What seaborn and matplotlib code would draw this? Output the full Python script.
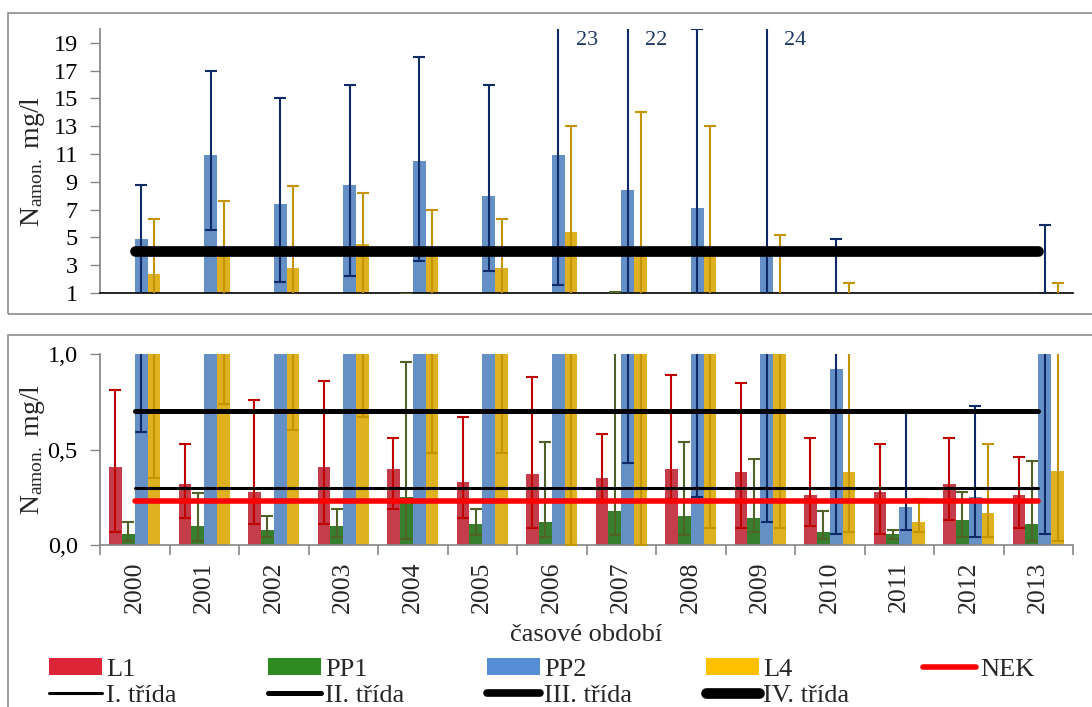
import numpy as np
import pandas as pd
import seaborn as sns
import matplotlib.pyplot as plt
from matplotlib.patches import Patch, Rectangle
from matplotlib.lines import Line2D

# data (mg/l) - mean, min, max per year and site
years = [str(y) for y in range(2000, 2014)]
sites = ["L1", "PP1", "PP2", "L4"]

l1_mean = [0.41, 0.32, 0.28, 0.41, 0.40, 0.33, 0.37, 0.35, 0.40, 0.38, 0.26, 0.28, 0.32, 0.26]
l1_min = [0.07, 0.14, 0.11, 0.11, 0.19, 0.14, 0.09, 0.23, 0.24, 0.09, 0.10, 0.06, 0.13, 0.09]
l1_max = [0.81, 0.53, 0.76, 0.86, 0.56, 0.67, 0.88, 0.58, 0.89, 0.85, 0.56, 0.53, 0.56, 0.46]

pp1_mean = [0.06, 0.10, 0.08, 0.10, 0.25, 0.11, 0.12, 0.18, 0.15, 0.14, 0.07, 0.06, 0.13, 0.11]
pp1_min = [0.02, 0.02, 0.04, 0.04, 0.03, 0.05, 0.04, 0.05, 0.05, 0.07, 0.03, 0.03, 0.04, 0.02]
pp1_max = [0.12, 0.27, 0.15, 0.19, 0.96, 0.19, 0.54, 1.10, 0.54, 0.45, 0.18, 0.08, 0.28, 0.44]

pp2_mean = [4.9, 10.9, 7.4, 8.8, 10.5, 8.0, 10.9, 8.4, 7.1, 4.2, 0.92, 0.20, 0.25, 1.1]
pp2_min = [0.59, 5.5, 1.8, 2.2, 3.3, 2.6, 1.6, 0.43, 0.25, 0.12, 0.06, 0.08, 0.04, 0.06]
pp2_max = [8.8, 17, 15, 16, 18, 16, 23, 22, 20, 24, 4.9, 0.70, 0.73, 5.9]

l4_mean = [2.4, 3.9, 2.8, 4.5, 3.9, 2.8, 5.4, 4.0, 3.9, 1.1, 0.38, 0.12, 0.17, 0.39]
l4_min = [0.35, 0.74, 0.60, 0.67, 0.48, 0.48, 0.0, 0.0, 0.09, 0.09, 0.07, 0.07, 0.04, 0.02]
l4_max = [6.3, 7.6, 8.7, 8.2, 7.0, 6.3, 13, 14, 13, 5.2, 1.7, 0.24, 0.53, 1.7]

nek = 0.23
class_limits = {"I. třída": 0.3, "II. třída": 0.7, "IV. třída": 4.0}

top_ticks = [1, 3, 5, 7, 9, 11, 13, 15, 17, 19]
bot_ticks = [0.0, 0.5, 1.0]

means = {"L1": l1_mean, "PP1": pp1_mean, "PP2": pp2_mean, "L4": l4_mean}
mins = {"L1": l1_min, "PP1": pp1_min, "PP2": pp2_min, "L4": l4_min}
maxs = {"L1": l1_max, "PP1": pp1_max, "PP2": pp2_max, "L4": l4_max}

bar_colors = {"L1": "#DC2638", "PP1": "#2E8B22", "PP2": "#558ED5", "L4": "#FFC000"}
err_colors = {"L1": "#C00000", "PP1": "#4F6228", "PP2": "#0F2A66", "L4": "#C49400"}
class_lw = {"I. třída": 2.2, "II. třída": 3.6, "III. třída": 5.5, "IV. třída": 7.7}

df = pd.DataFrame(
    [(y, s, v) for s in sites for y, v in zip(years, means[s])],
    columns=["rok", "lokalita", "hodnota"],
)

sns.set_theme(style="ticks")
plt.rcParams["font.family"] = ["Liberation Serif", "DejaVu Serif"]
plt.rcParams["mathtext.fontset"] = "custom"
plt.rcParams["mathtext.rm"] = "Liberation Serif"
plt.rcParams["mathtext.it"] = "Liberation Serif:italic"

fig = plt.figure(figsize=(10.92, 7.07), dpi=100)
ax_top = fig.add_axes([100 / 1092, 1 - 293 / 707, 973 / 1092, 264 / 707])
ax_bot = fig.add_axes([100 / 1092, 1 - 545 / 707, 973 / 1092, 191 / 707])

gray = "#868686"


def draw_panel(ax):
    sns.barplot(data=df, x="rok", y="hodnota", hue="lokalita", hue_order=sites,
                palette=bar_colors, width=0.74, errorbar=None, linewidth=0,
                legend=False, ax=ax, zorder=2)
    centers = {}
    for cont, s in zip(ax.containers, sites):
        xs = np.array([p.get_x() + p.get_width() / 2 for p in cont])
        m = np.array(means[s])
        lo = np.array(mins[s])
        hi = np.array(maxs[s])
        ax.errorbar(xs, m, yerr=[m - lo, hi - m], fmt="none", ecolor=err_colors[s],
                    elinewidth=1.5, capsize=4.3, capthick=1.5, zorder=3)
        centers[s] = xs
    xline = np.arange(len(years))
    for name, val in class_limits.items():
        ax.plot(xline, np.full(len(years), val), color="black", lw=class_lw[name],
                solid_capstyle="round", zorder=5)
    ax.plot(xline, np.full(len(years), nek), color="#FF0000", lw=4,
            solid_capstyle="round", zorder=6)
    ax.set_xlim(-0.5, len(years) - 0.5)
    sns.despine(ax=ax)
    ax.spines["left"].set_color(gray)
    ax.tick_params(axis="y", direction="out", length=7, width=1, color=gray,
                   pad=9, labelsize=17.5, labelcolor="black")
    ax.set_ylabel(r"N$_{\mathrm{amon.}}$ mg/l", fontsize=20, va="center")
    ax.yaxis.set_label_coords(-0.069, 0.5)
    return centers


# top panel
centers = draw_panel(ax_top)
ax_top.set_ylim(1, 20)
ax_top.set_yticks(top_ticks)
ax_top.set_yticklabels([str(t) for t in top_ticks])
ax_top.tick_params(axis="x", bottom=False, labelbottom=False)
ax_top.set_xlabel("")
ax_top.spines["bottom"].set_color("black")
ax_top.spines["bottom"].set_linewidth(1.2)
for x, h in zip(centers["PP2"], pp2_max):
    if h > 20:
        ax_top.text(x + 0.25, 19.2, f"{h:g}", color="#1F3864", fontsize=16,
                    ha="left", va="center")

# bottom panel
draw_panel(ax_bot)
ax_bot.set_ylim(0, 1)
ax_bot.set_yticks(bot_ticks)
ax_bot.set_yticklabels([f"{t:.1f}".replace(".", ",") for t in bot_ticks])
ax_bot.spines["bottom"].set_color(gray)
ax_bot.spines["bottom"].set_linewidth(1.2)
ax_bot.set_xticks(np.arange(len(years) + 1) - 0.5, minor=True)
ax_bot.tick_params(axis="x", which="major", length=0, labelsize=18.5,
                   labelrotation=90, pad=12)
ax_bot.tick_params(axis="x", which="minor", length=7, width=1.2, color=gray,
                   direction="out")
ax_bot.set_xlabel("časové období", fontsize=19, va="center")
ax_bot.xaxis.set_label_coords(0.5, -0.47)

# chart area borders
fig.patches.append(Rectangle((8 / 1092, 1 - 314 / 707), 1.2, 301 / 707,
                             transform=fig.transFigure, fill=False,
                             edgecolor="#8C8C8C", lw=1.2))
fig.patches.append(Rectangle((8 / 1092, -0.2), 1.2, 1.2 - 335 / 707,
                             transform=fig.transFigure, fill=False,
                             edgecolor="#8C8C8C", lw=1.2))

# legend, one column at a time
def bar_handle(s):
    return Patch(facecolor=bar_colors[s], edgecolor="none")


def line_handle(color, lw):
    return Line2D([], [], color=color, lw=lw, solid_capstyle="round")


columns = [
    [("L1", bar_handle("L1")), ("I. třída", line_handle("black", class_lw["I. třída"]))],
    [("PP1", bar_handle("PP1")), ("II. třída", line_handle("black", class_lw["II. třída"]))],
    [("PP2", bar_handle("PP2")), ("III. třída", line_handle("black", class_lw["III. třída"]))],
    [("L4", bar_handle("L4")), ("IV. třída", line_handle("black", class_lw["IV. třída"]))],
    [("NEK", line_handle("#FF0000", 4))],
]
col_x = [49, 268, 487, 706, 923]
for cx, items in zip(col_x, columns):
    fig.legend([h for _, h in items], [l for l, _ in items], loc="upper left",
               bbox_to_anchor=(cx / 1092, 1 - 658 / 707), frameon=False,
               fontsize=19, handlelength=2.0, handleheight=0.6,
               handletextpad=0.15, labelspacing=0.12, borderpad=0,
               borderaxespad=0)

fig.savefig("out.png", dpi=100)
